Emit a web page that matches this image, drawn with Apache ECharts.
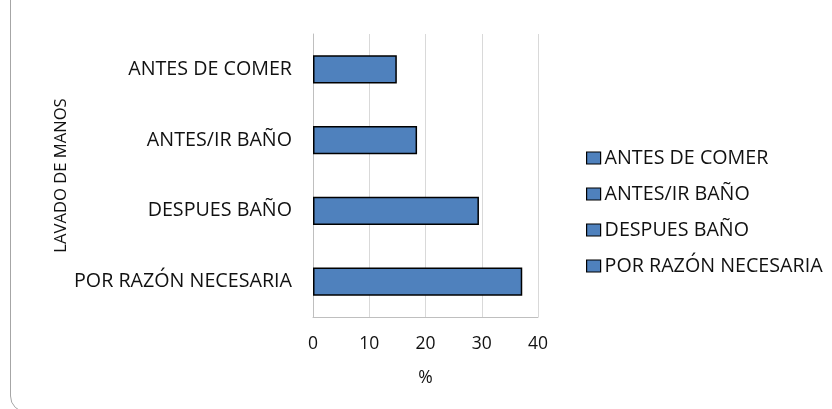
<!DOCTYPE html>
<html><head><meta charset="utf-8">
<script src="https://cdn.jsdelivr.net/npm/echarts@6/dist/echarts.min.js"></script>
<style>html,body{margin:0;padding:0;background:#fff}#c{width:832px;height:409px}</style>
</head><body><div id="c"></div>
<script>
const categories = ['ANTES DE COMER', 'ANTES/IR BAÑO', 'DESPUES BAÑO', 'POR RAZÓN NECESARIA'];
const values = [14.9, 18.5, 29.5, 37.2];
const xTicks = [0, 10, 20, 30, 40];
const yAxisTitle = 'LAVADO DE MANOS';
const xAxisTitle = '%';

const FONT = 'Open Sans';
const chart = echarts.init(document.getElementById('c'));
const series = categories.map((name, i) => ({
  name: name,
  type: 'bar',
  stack: 'all',
  barWidth: '40%',
  data: values.map((v, j) => (j === i ? v : null)),
  itemStyle: { color: '#4F81BD', borderColor: '#000', borderWidth: 1.5 },
  emphasis: { disabled: true }
}));
chart.setOption({
  animation: false,
  graphic: [{
    type: 'rect', silent: true,
    shape: { x: 10.5, y: -30, width: 900, height: 442, r: 16 },
    style: { fill: 'none', stroke: '#a6a6a6', lineWidth: 1 }
  }],
  grid: { left: 313, right: 294, top: 34, bottom: 92 },
  legend: {
    orient: 'vertical', left: 586, top: 148, padding: 0,
    itemWidth: 14, itemHeight: 12, itemGap: 16,
    icon: 'rect',
    itemStyle: { borderColor: '#000', borderWidth: 1.2 },
    textStyle: { fontFamily: FONT, fontSize: 19.7, lineHeight: 19, color: '#111', padding: [0, 0, 0, -1] },
    data: categories
  },
  xAxis: {
    type: 'value', min: xTicks[0], max: xTicks[xTicks.length - 1], interval: 10,
    name: xAxisTitle, nameLocation: 'middle', nameGap: 52,
    nameTextStyle: { fontFamily: FONT, fontSize: 17.5, color: '#111' },
    axisLine: { show: true, lineStyle: { color: '#bfbfbf', width: 1 } },
    axisTick: { show: false },
    axisLabel: { fontFamily: FONT, fontSize: 17.5, color: '#111', margin: 18 },
    splitLine: { show: true, lineStyle: { color: '#d9d9d9', width: 1 } }
  },
  yAxis: {
    type: 'category', data: categories, inverse: true,
    name: yAxisTitle, nameLocation: 'middle', nameGap: 240,
    nameTextStyle: { fontFamily: FONT, fontSize: 16.6, color: '#111' },
    axisLine: { show: true, lineStyle: { color: '#bfbfbf', width: 1 } },
    axisTick: { show: false },
    axisLabel: { fontFamily: FONT, fontSize: 19.7, color: '#111', margin: 21 },
    splitLine: { show: false }
  },
  series: series
});
</script></body></html>
